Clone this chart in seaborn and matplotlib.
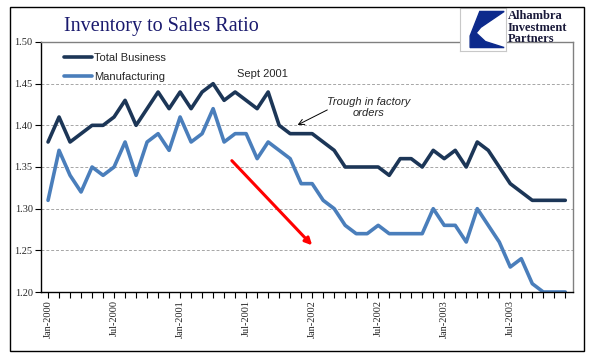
import numpy as np
import pandas as pd
import seaborn as sns
import matplotlib.pyplot as plt
from matplotlib.patches import Rectangle, Polygon

# monthly ratios, Jan-2000 .. Dec-2003
total_business = [1.38, 1.41, 1.38, 1.39, 1.40, 1.40, 1.41, 1.43, 1.40, 1.42,
                  1.44, 1.42, 1.44, 1.42, 1.44, 1.45, 1.43, 1.44, 1.43, 1.42,
                  1.44, 1.40, 1.39, 1.39, 1.39, 1.38, 1.37, 1.35, 1.35, 1.35,
                  1.35, 1.34, 1.36, 1.36, 1.35, 1.37, 1.36, 1.37, 1.35, 1.38,
                  1.37, 1.35, 1.33, 1.32, 1.31, 1.31, 1.31, 1.31]
manufacturing = [1.31, 1.37, 1.34, 1.32, 1.35, 1.34, 1.35, 1.38, 1.34, 1.38,
                 1.39, 1.37, 1.41, 1.38, 1.39, 1.42, 1.38, 1.39, 1.39, 1.36,
                 1.38, 1.37, 1.36, 1.33, 1.33, 1.31, 1.30, 1.28, 1.27, 1.27,
                 1.28, 1.27, 1.27, 1.27, 1.27, 1.30, 1.28, 1.28, 1.26, 1.30,
                 1.28, 1.26, 1.23, 1.24, 1.21, 1.20, 1.20, 1.20]
tick_labels = ['Jan-2000', 'Jul-2000', 'Jan-2001', 'Jul-2001',
               'Jan-2002', 'Jul-2002', 'Jan-2003', 'Jul-2003']
y_ticks = [1.20, 1.25, 1.30, 1.35, 1.40, 1.45, 1.50]

months = np.arange(len(total_business))
df = pd.DataFrame({'month': months,
                   'Total Business': total_business,
                   'Manufacturing': manufacturing})
long = df.melt(id_vars='month', var_name='series', value_name='ratio')

sns.set_style('white')
plt.rcParams['font.family'] = ['Liberation Sans', 'DejaVu Sans']

fig = plt.figure(figsize=(5.96, 3.58), dpi=100)
ax = fig.add_axes([41/596, 1 - 292/358, 532/596, 250/358])

sns.lineplot(data=long, x='month', y='ratio', hue='series',
             palette={'Total Business': '#1c3657', 'Manufacturing': '#4a7ebb'},
             linewidth=2.6, ax=ax)

ax.set_xlim(-0.64, 47.7)
ax.set_ylim(1.20, 1.50)
ax.set_yticks(y_ticks)
ax.set_yticklabels(['%.2f' % v for v in y_ticks], family='Liberation Serif', fontsize=7.5)
ax.set_xticks(np.arange(0, 48, 6))
ax.set_xticklabels(tick_labels, rotation=90, family='Liberation Serif', fontsize=7.5)
ax.set_xticks(months, minor=True)
ax.tick_params(axis='both', which='both', direction='out', length=4, width=0.8,
               color='black', pad=2)
ax.tick_params(axis='x', which='both', bottom=True)
ax.tick_params(axis='y', left=True)
ax.set_xlabel('')
ax.set_ylabel('')

for v in y_ticks[1:-1]:
    ax.axhline(v, color='#a6a6a6', lw=0.7, ls=(0, (3, 2)), zorder=0)

for s in ['left', 'bottom']:
    ax.spines[s].set_color('black')
    ax.spines[s].set_linewidth(1)
for s in ['top', 'right']:
    ax.spines[s].set_color('#808080')
    ax.spines[s].set_linewidth(1)

leg = ax.legend(loc='upper left', bbox_to_anchor=(0.025, 0.995), frameon=False,
                fontsize=8, handlelength=2.5, handletextpad=0.2, labelspacing=0.75)

ax.text(19.45, 1.461, 'Sept 2001', ha='center', va='center', fontsize=8)
ax.text(29.1, 1.421, 'Trough in factory\norders', ha='center', va='center',
        fontsize=8, style='italic', linespacing=1.1)
ax.annotate('', xy=(22.45, 1.399), xytext=(25.6, 1.420),
            arrowprops=dict(arrowstyle='->', color='black', lw=0.7))
ax.annotate('', xy=(24.0, 1.256), xytext=(16.7, 1.3576),
            arrowprops=dict(arrowstyle='-|>', color='#ff0000', lw=2.2,
                            mutation_scale=10, shrinkA=0, shrinkB=0))

fig.text(161/596, 1 - 26/358, 'Inventory to Sales Ratio', ha='center', va='center',
         family='Liberation Serif', fontsize=14.5, color='#1a1a6e')

# logo
lax = fig.add_axes([460/596, 1 - 51/358, 46/596, 43/358])
lax.set_xlim(0, 1)
lax.set_ylim(0, 1)
lax.set_xticks([])
lax.set_yticks([])
for s in lax.spines.values():
    s.set_color('#c8c8c8')
    s.set_linewidth(0.8)
lax.add_patch(Polygon([(0.43, 0.92), (0.96, 0.92), (0.45, 0.55), (0.35, 0.42),
                       (0.55, 0.22), (0.96, 0.08), (0.22, 0.08), (0.22, 0.35)],
                      closed=True, color='#0d2a8c'))
fig.text(508/596, 1 - 10/358, 'Alhambra\nInvestment\nPartners', ha='left', va='top',
         family='Liberation Serif', fontsize=9, fontweight='bold', color='#1a1a3a',
         linespacing=0.95)

fig.patches.append(Rectangle((10/596, 1 - 351/358), 574/596, 344/358, fill=False,
                             edgecolor='black', lw=1, transform=fig.transFigure))

fig.savefig('out.png', dpi=100)
